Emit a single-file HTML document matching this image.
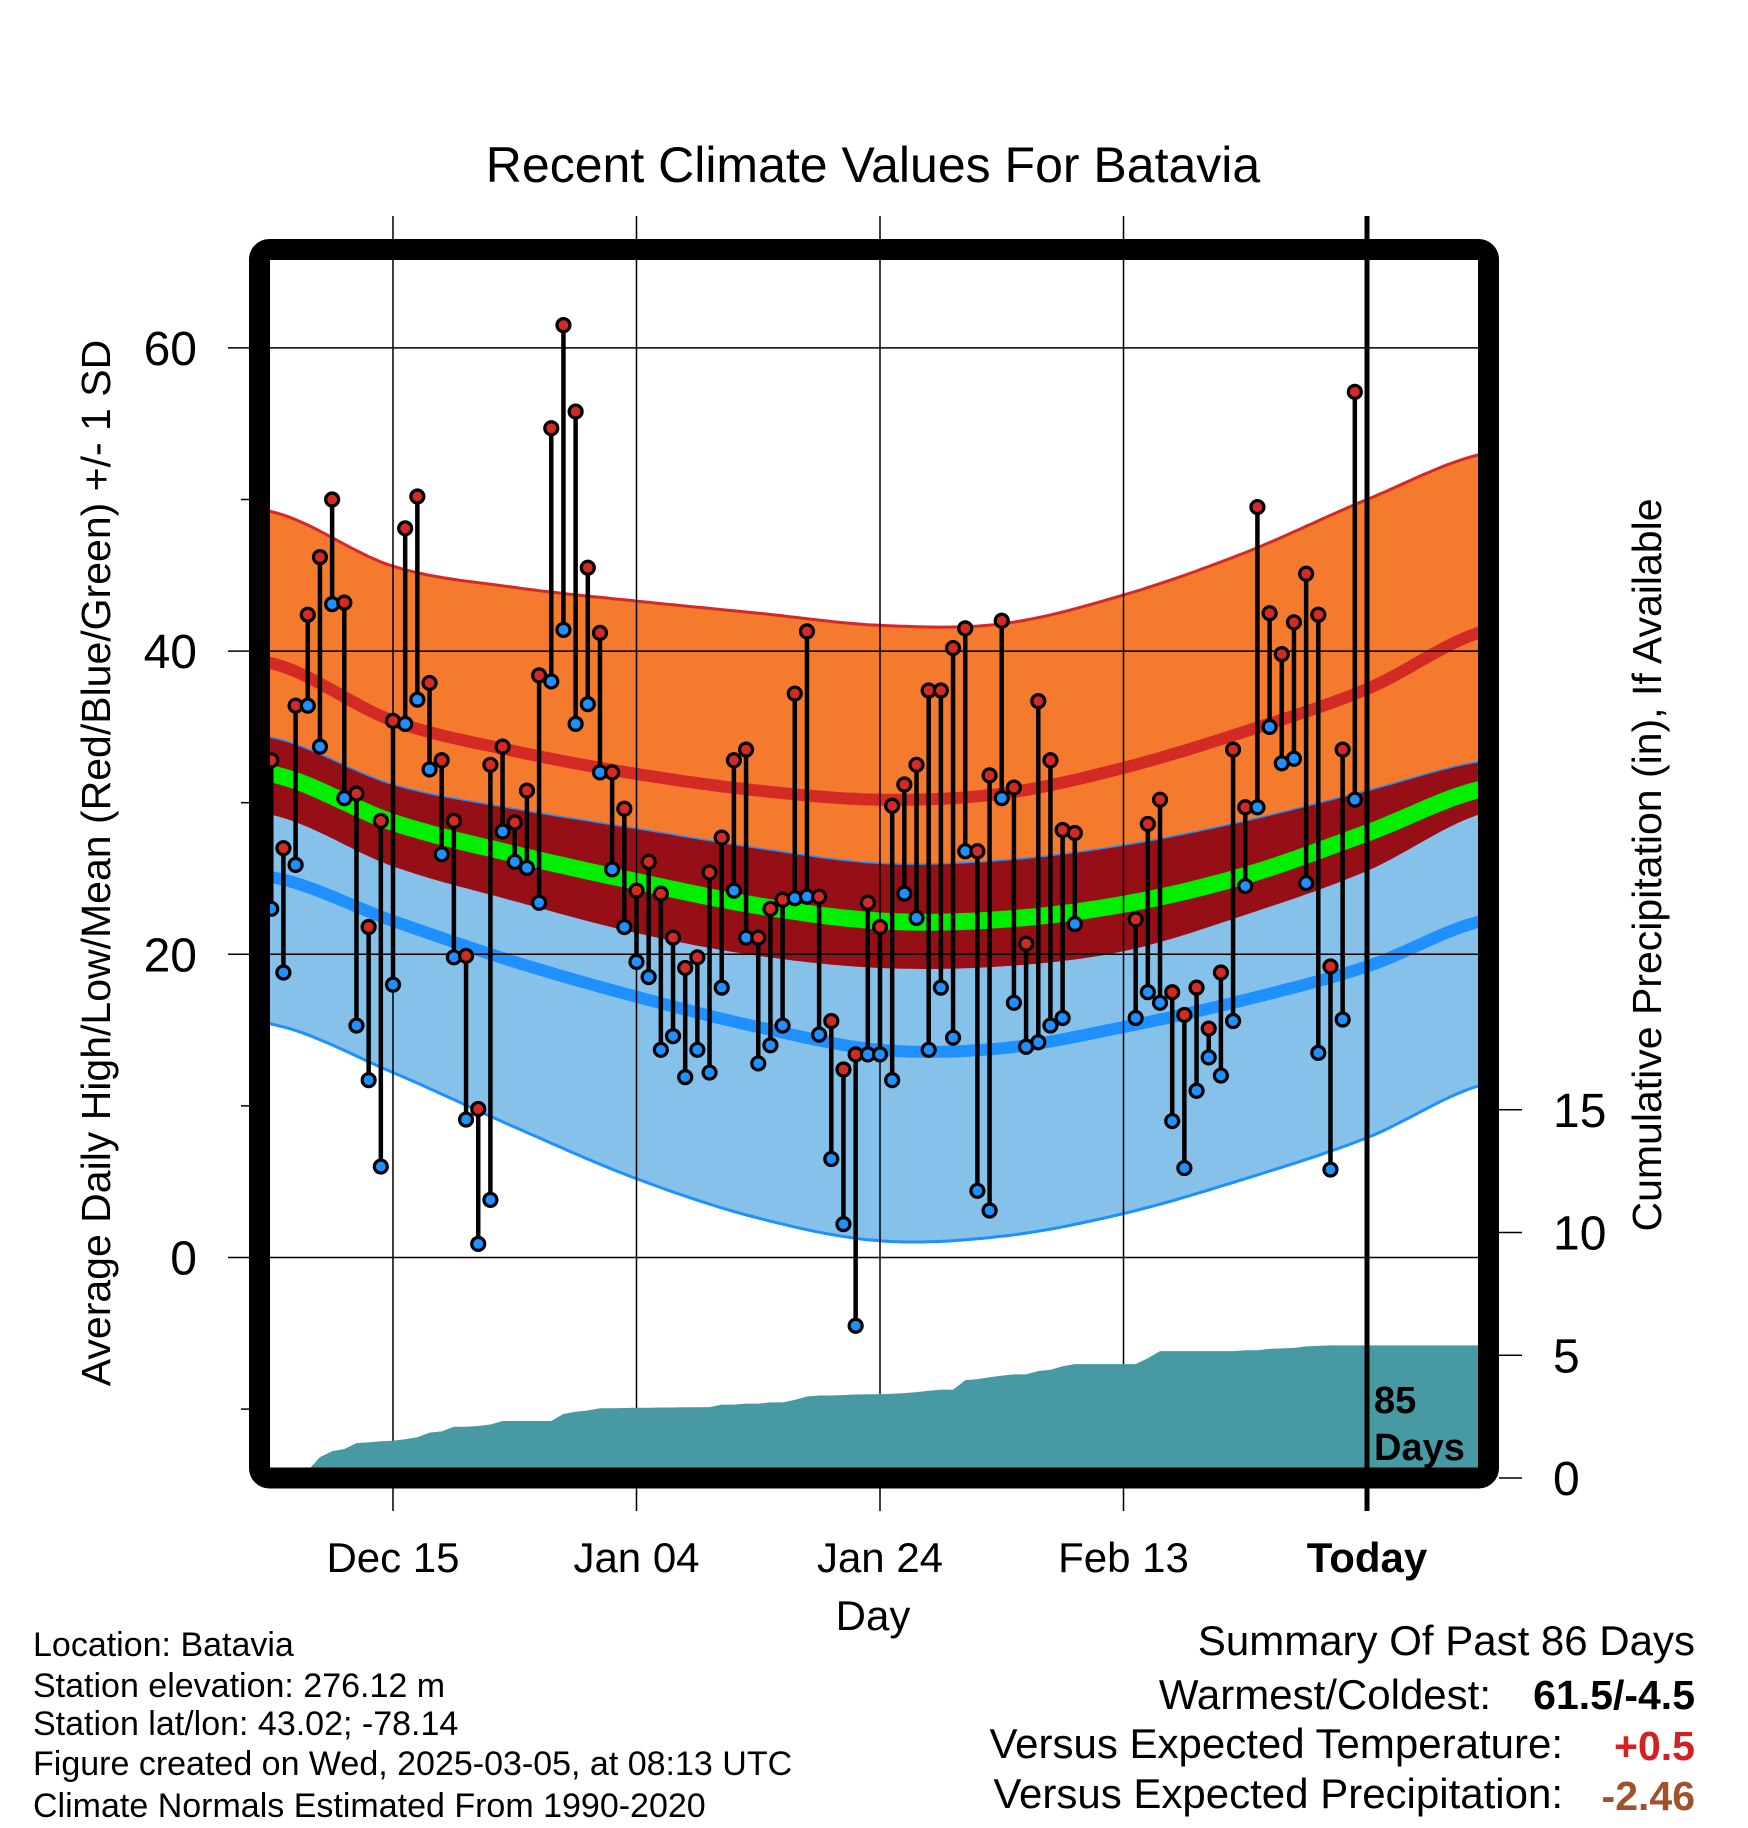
<!DOCTYPE html>
<html><head><meta charset="utf-8"><style>
html,body{margin:0;padding:0;background:#fff;}
svg{display:block;font-family:"Liberation Sans",sans-serif;}
</style></head><body>
<svg id="chart" width="1748" height="1828" viewBox="0 0 1748 1828" xmlns="http://www.w3.org/2000/svg">
<defs><clipPath id="plotclip"><rect x="270" y="260" width="1208" height="1208"/></clipPath></defs>
<g id="bands" clip-path="url(#plotclip)"></g>
<g id="grid"></g>
<g id="precip" clip-path="url(#plotclip)"></g>
<g id="marks"></g>
<rect x="259.5" y="249.5" width="1229" height="1228.5" rx="10" fill="none" stroke="#000" stroke-width="21"/>
<g id="axes"></g>
<text x="873" y="182" font-size="50" text-anchor="middle">Recent Climate Values For Batavia</text>
<text transform="translate(110,863) rotate(-90)" font-size="41" text-anchor="middle">Average Daily High/Low/Mean (Red/Blue/Green) +/- 1 SD</text>
<text transform="translate(1661,865) rotate(-90)" font-size="41" text-anchor="middle">Cumulative Precipitation (in), If Available</text>
<text x="873" y="1630" font-size="42" text-anchor="middle">Day</text>
<text x="1374" y="1413" font-size="38" font-weight="bold">85</text>
<text x="1374" y="1460" font-size="38" font-weight="bold">Days</text>
<g font-size="34">
<text x="33" y="1656">Location: Batavia</text>
<text x="33" y="1697">Station elevation: 276.12 m</text>
<text x="33" y="1735">Station lat/lon: 43.02; -78.14</text>
<text x="33" y="1775">Figure created on Wed, 2025-03-05, at 08:13 UTC</text>
<text x="33" y="1817">Climate Normals Estimated From 1990-2020</text>
</g>
<g>
<text x="1695" y="1655" font-size="42" text-anchor="end">Summary Of Past 86 Days</text>
<text x="1491" y="1709" font-size="42" text-anchor="end">Warmest/Coldest:</text>
<text x="1695" y="1709" font-size="41" font-weight="bold" text-anchor="end">61.5/-4.5</text>
<text x="1563" y="1758" font-size="42" text-anchor="end">Versus Expected Temperature:</text>
<text x="1695" y="1760" font-size="41" font-weight="bold" fill="#d32020" text-anchor="end">+0.5</text>
<text x="1563" y="1808" font-size="42" text-anchor="end">Versus Expected Precipitation:</text>
<text x="1695" y="1810" font-size="41" font-weight="bold" fill="#a0522d" text-anchor="end">-2.46</text>
</g>
</svg>
<script>
// day offsets relative to Dec 15
const pointDays = [-10,-9,-8,-7,-6,-5,-4,-3,-2,-1,0,1,2,3,4,5,6,7,8,9,10,11,12,13,14,15,16,17,18,19,20,21,22,23,24,25,26,27,28,29,30,31,32,33,34,35,36,37,38,39,40,41,42,43,44,45,46,47,48,49,50,51,52,53,54,55,56,61,62,63,64,65,66,67,68,69,70,71,72,73,74,75,76,77,78,79];
const highs = [32.8,27.0,36.4,42.4,46.2,50.0,43.2,30.6,21.8,28.8,35.4,48.1,50.2,37.9,32.8,28.8,19.9,9.8,32.5,33.7,28.7,30.8,38.4,54.7,61.5,55.8,45.5,41.2,32.0,29.6,24.2,26.1,24.0,21.1,19.1,19.8,25.4,27.7,32.8,33.5,21.1,23.0,23.6,37.2,41.3,23.8,15.6,12.4,13.4,23.4,21.8,29.8,31.2,32.5,37.4,37.4,40.2,41.5,26.8,31.8,42.0,31.0,20.7,36.7,32.8,28.2,28.0,22.3,28.6,30.2,17.5,16.0,17.8,15.1,18.8,33.5,29.7,49.5,42.5,39.8,41.9,45.1,42.4,19.2,33.5,57.1];
const lows = [23.0,18.8,25.9,36.4,33.7,43.1,30.3,15.3,11.7,6.0,18.0,35.2,36.8,32.2,26.6,19.8,9.1,0.9,3.8,28.1,26.1,25.7,23.4,38.0,41.4,35.2,36.5,32.0,25.6,21.8,19.5,18.5,13.7,14.6,11.9,13.7,12.2,17.8,24.2,21.1,12.8,14.0,15.3,23.7,23.8,14.7,6.5,2.2,-4.5,13.4,13.4,11.7,24.0,22.4,13.7,17.8,14.5,26.8,4.4,3.1,30.3,16.8,13.9,14.2,15.3,15.8,22.0,15.8,17.5,16.8,9.0,5.9,11.0,13.2,12.0,15.6,24.5,29.7,35.0,32.6,32.9,24.7,13.5,5.8,15.7,30.2];
const cumPrecip = [0,0,0,0.3,0.85,1.09,1.18,1.42,1.45,1.50,1.52,1.58,1.66,1.85,1.90,2.09,2.09,2.12,2.18,2.32,2.32,2.32,2.32,2.32,2.61,2.70,2.75,2.84,2.84,2.85,2.86,2.86,2.87,2.87,2.88,2.88,2.89,2.99,2.99,3.03,3.03,3.08,3.08,3.18,3.32,3.36,3.36,3.38,3.40,3.41,3.41,3.43,3.46,3.50,3.55,3.60,3.60,3.98,4.03,4.10,4.17,4.22,4.22,4.36,4.41,4.55,4.64,4.64,4.88,5.17,5.17,5.17,5.17,5.17,5.17,5.17,5.20,5.20,5.26,5.28,5.30,5.36,5.38,5.40,5.40,5.40];
// climate normals sampled every 10 days
const normDays = [-10,0,10,20,30,40,50,60,70,80,90];
const highPlusSD = [49.2,45.6,44.2,43.3,42.5,41.7,41.8,43.7,46.5,50.0,53.1];
const highMean = [39.2,35.4,33.4,31.9,30.8,30.2,30.6,32.3,34.7,37.5,41.4];
const meanPlusSD = [34.3,31.2,29.6,28.3,27.0,26.0,26.2,27.2,28.8,30.8,32.8];
const meanMean = [31.9,28.7,26.6,24.8,23.2,22.2,22.3,23.3,25.2,28.0,31.0];
const meanMinusSD = [29.2,25.8,23.5,21.4,19.9,19.1,19.2,20.2,22.6,25.5,29.4];
const lowMean = [25.1,22.2,19.5,17.2,15.2,13.7,13.8,15.2,17.0,19.2,22.3];
const lowMinusSD = [15.4,12.2,8.6,5.2,2.6,1.1,1.4,2.9,5.2,7.9,11.5];
const xTickDays = [0,20,40,60,80];
const xTickLabels = ["Dec 15","Jan 04","Jan 24","Feb 13","Today"];
const yTicks = [0,20,40,60];
const yMinorTicks = [-10,10,30,50];
const y2Ticks = [0,5,10,15];

const NS="http://www.w3.org/2000/svg";
const xS = d => 393 + d*12.175;
const yT = t => 1257.5 - t*15.16;
const yP = p => 1478 - p*24.55;
function mk(tag, attrs, parent){const e=document.createElementNS(NS,tag);for(const k in attrs)e.setAttribute(k,attrs[k]);parent.appendChild(e);return e;}
function curvePts(arr){const pts=[];for(let d=-11;d<=91;d+=0.5){pts.push([xS(d),yT(interp(arr,d))]);}return pts;}
function interp(arr,d){
  let i=Math.floor((d-normDays[0])/10);i=Math.max(0,Math.min(normDays.length-2,i));
  const t=(d-normDays[i])/10;
  const p0=arr[Math.max(0,i-1)],p1=arr[i],p2=arr[i+1],p3=arr[Math.min(arr.length-1,i+2)];
  return 0.5*((2*p1)+(-p0+p2)*t+(2*p0-5*p1+4*p2-p3)*t*t+(-p0+3*p1-3*p2+p3)*t*t*t);
}
function bandPath(top,bot){const a=curvePts(top),b=curvePts(bot).reverse();return 'M'+a.concat(b).map(p=>p[0].toFixed(1)+','+p[1].toFixed(1)).join('L')+'Z';}
function linePath(arr){return 'M'+curvePts(arr).map(p=>p[0].toFixed(1)+','+p[1].toFixed(1)).join('L');}

const bands=document.getElementById('bands');
let e;
e=mk('path',{d:bandPath(highPlusSD,meanPlusSD),fill:'#f47a2e'},bands);


e=mk('path',{d:bandPath(meanPlusSD,lowMinusSD),fill:'#85c1e9'},bands);


e=mk('path',{d:bandPath(meanPlusSD,meanMinusSD),fill:'#960f17'},bands);


e=mk('path',{d:linePath(highPlusSD),fill:'none',stroke:'#d42a26',"stroke-width":3},bands);


e=mk('path',{d:linePath(highMean),fill:'none',stroke:'#d42a26',"stroke-width":12},bands);


e=mk('path',{d:linePath(meanPlusSD),fill:'none',stroke:'#1e90ff',"stroke-width":1.5},bands);


e=mk('path',{d:linePath(meanMean),fill:'none',stroke:'#00ee00',"stroke-width":17},bands);


e=mk('path',{d:linePath(lowMean),fill:'none',stroke:'#1e90ff',"stroke-width":12},bands);


e=mk('path',{d:linePath(lowMinusSD),fill:'none',stroke:'#1e90ff',"stroke-width":3},bands);



const grid=document.getElementById('grid');
yTicks.forEach(t=>{
  const l=mk('line',{x1:228,x2:1478,y1:yT(t),y2:yT(t),stroke:'#000',"stroke-width":1.5},grid);
  
  
});
xTickDays.forEach((d,i)=>{
  if(i===xTickDays.length-1)return;
  const l=mk('line',{x1:xS(d),x2:xS(d),y1:216,y2:1511,stroke:'#000',"stroke-width":1.5},grid);
  
  
});

const precip=document.getElementById('precip');
let pd='M'+xS(pointDays[0])+','+yP(0);
pointDays.forEach((d,i)=>{pd+='L'+xS(d).toFixed(1)+','+yP(cumPrecip[i]).toFixed(1);});
pd+='L1480,'+yP(cumPrecip[cumPrecip.length-1]).toFixed(1)+'L1480,'+yP(0)+'Z';
e=mk('path',{d:pd,fill:'#4799a3'},precip);



const marks=document.getElementById('marks');
pointDays.forEach((d,i)=>{
  const s=mk('line',{x1:xS(d),x2:xS(d),y1:yT(highs[i]),y2:yT(lows[i]),stroke:'#000',"stroke-width":4.5},marks);
  
  
});
pointDays.forEach((d,i)=>{
  const h=mk('circle',{cx:xS(d),cy:yT(highs[i]),r:6.5,fill:'#d42a26',stroke:'#000',"stroke-width":3.2},marks);
  
  
  const lo=mk('circle',{cx:xS(d),cy:yT(lows[i]),r:6.5,fill:'#1e90ff',stroke:'#000',"stroke-width":3.2},marks);
  
  
});
e=mk('line',{x1:xS(80),x2:xS(80),y1:216,y2:1511,stroke:'#000',"stroke-width":5},marks);



const axes=document.getElementById('axes');
yTicks.forEach(t=>{
  const tx=mk('text',{x:197,y:yT(t)+17,"font-size":48,"text-anchor":"end"},axes);
  tx.textContent=t;
  
  
});
yMinorTicks.forEach(t=>{
  const l=mk('line',{x1:241,x2:254,y1:yT(t),y2:yT(t),stroke:'#000',"stroke-width":1.5},axes);
  
  
});
y2Ticks.forEach(p=>{
  const l=mk('line',{x1:1499,x2:1522,y1:yP(p),y2:yP(p),stroke:'#000',"stroke-width":1.5},axes);
  
  
  const tx=mk('text',{x:1553,y:yP(p)+17,"font-size":48,"text-anchor":"start"},axes);
  tx.textContent=p;
  
  
});
xTickDays.forEach((d,i)=>{
  const tx=mk('text',{x:xS(d),y:1572,"font-size":42,"text-anchor":"middle"},axes);
  if(i===xTickDays.length-1)tx.setAttribute('font-weight','bold');
  tx.textContent=xTickLabels[i];
  
  
});
</script>
</body></html>
